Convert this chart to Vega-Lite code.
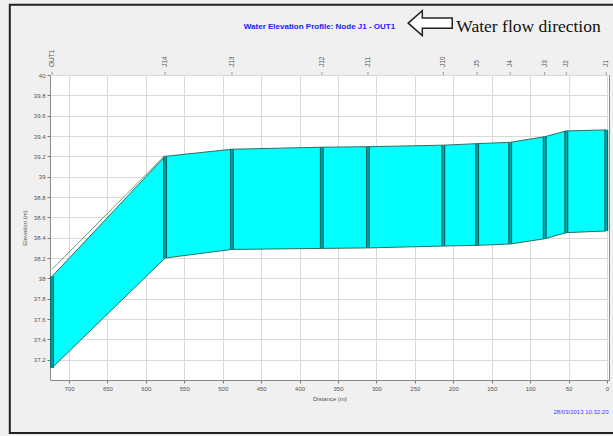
{
  "$schema": "https://vega.github.io/schema/vega-lite/v6.json",
  "autosize": "none",
  "width": 559,
  "height": 305,
  "padding": {"left": 50, "top": 75, "right": 4, "bottom": 56},
  "background": "#f0f0f0",
  "view": {"fill": "white", "stroke": "#8a8a8a", "strokeWidth": 1},
  "title": {
    "text": "Water Elevation Profile: Node J1 - OUT1",
    "color": "#2020ff",
    "fontSize": 8,
    "font": "Liberation Sans Narrow, Liberation Sans",
    "fontWeight": "bold",
    "anchor": "middle",
    "dx": -10,
    "offset": -27
  },
  "config": {
    "numberFormat": ".1~f",
    "axis": {
      "labelFont": "Liberation Sans",
      "labelFontSize": 6,
      "labelColor": "#555555",
      "labelOverlap": false,
      "titleFont": "Liberation Sans",
      "titleFontSize": 6,
      "titleFontWeight": "normal",
      "titleColor": "#555555",
      "gridColor": "#d9d9d9",
      "tickColor": "#777777",
      "tickSize": 3,
      "domain": false,
      "grid": true
    },
    "axisX": {"tickCount": 15},
    "axisY": {"tickCount": 15}
  },
  "datasets": {
    "profile": [
      {"node": "OUT1", "dist": 722, "top": 38.02, "bottom": 37.12},
      {"node": "J14", "dist": 575, "top": 39.2, "bottom": 38.2},
      {"node": "J13", "dist": 488, "top": 39.27, "bottom": 38.285},
      {"node": "J12", "dist": 371, "top": 39.29, "bottom": 38.295},
      {"node": "J11", "dist": 311, "top": 39.295, "bottom": 38.3},
      {"node": "J10", "dist": 213, "top": 39.31, "bottom": 38.318},
      {"node": "J5", "dist": 169, "top": 39.325, "bottom": 38.325},
      {"node": "J4", "dist": 126, "top": 39.338, "bottom": 38.338},
      {"node": "J3", "dist": 81, "top": 39.393, "bottom": 38.39},
      {"node": "J2", "dist": 53, "top": 39.45, "bottom": 38.45},
      {"node": "J1", "dist": 1, "top": 39.46, "bottom": 38.466}
    ],
    "hgl": [
      {"dist": 722, "elev": 38.09},
      {"dist": 575, "elev": 39.21}
    ],
    "notes": [
      {"label": "Water flow direction", "dist": 196, "elev": 40.47}
    ],
    "stamp": [
      {"label": "28/03/2013 10:32:20", "dist": -2, "elev": 36.69}
    ],
    "arrow": [
      {"dist": 230, "elev": 40.51}
    ]
  },
  "layer": [
    {
      "data": {"name": "profile"},
      "mark": {"type": "area", "color": "#00ffff", "stroke": "#2f6f5f", "strokeWidth": 1, "clip": true},
      "encoding": {
        "x": {
          "field": "dist", "type": "quantitative",
          "scale": {"domain": [-2.6, 724.7], "reverse": true, "nice": false, "zero": false},
          "axis": {
            "title": "Distance (m)",
            "labelPadding": 2,
            "titlePadding": 4
          }
        },
        "y": {
          "field": "top", "type": "quantitative",
          "scale": {"domain": [37.001, 40], "nice": false, "zero": false},
          "axis": {
            "title": "Elevation (m)",
            "labelPadding": 2,
            "titlePadding": 6
          }
        },
        "y2": {"field": "bottom"}
      }
    },
    {
      "data": {"name": "profile"},
      "mark": {"type": "rule", "color": "#006b6b", "strokeWidth": 4},
      "encoding": {
        "x": {"field": "dist", "type": "quantitative"},
        "y": {"field": "bottom", "type": "quantitative"},
        "y2": {"field": "top"}
      }
    },
    {
      "data": {"name": "profile"},
      "mark": {"type": "rule", "color": "#00a8a8", "strokeWidth": 1.5},
      "encoding": {
        "x": {"field": "dist", "type": "quantitative"},
        "y": {"field": "bottom", "type": "quantitative"},
        "y2": {"field": "top"}
      }
    },
    {
      "data": {"name": "hgl"},
      "mark": {"type": "line", "color": "#6f9a6f", "strokeWidth": 1},
      "encoding": {
        "x": {"field": "dist", "type": "quantitative"},
        "y": {"field": "elev", "type": "quantitative"}
      }
    },
    {
      "data": {"name": "profile"},
      "mark": {"type": "text", "angle": 270, "align": "left", "baseline": "middle", "yOffset": -8, "fontSize": 6.5, "font": "Liberation Sans", "color": "#555555", "clip": false},
      "encoding": {
        "x": {"field": "dist", "type": "quantitative"},
        "y": {"datum": 40, "type": "quantitative"},
        "text": {"field": "node"}
      }
    },
    {
      "data": {"name": "profile"},
      "mark": {"type": "tick", "orient": "vertical", "size": 3, "thickness": 1, "color": "#777777", "yOffset": -1.5, "clip": false},
      "encoding": {
        "x": {"field": "dist", "type": "quantitative"},
        "y": {"datum": 40, "type": "quantitative"}
      }
    },
    {
      "data": {"name": "arrow"},
      "mark": {
        "type": "point",
        "shape": "M -1 0 L -0.36 -0.57 L -0.36 -0.23 L 1 -0.23 L 1 0.23 L -0.36 0.23 L -0.36 0.57 Z",
        "size": 1936,
        "filled": true,
        "fill": "white",
        "stroke": "#222222",
        "strokeWidth": 1.5,
        "opacity": 1,
        "clip": false
      },
      "encoding": {
        "x": {"field": "dist", "type": "quantitative"},
        "y": {"field": "elev", "type": "quantitative"}
      }
    },
    {
      "data": {"name": "notes"},
      "mark": {"type": "text", "align": "left", "baseline": "middle", "font": "Liberation Serif", "fontSize": 17.5, "color": "#111111", "clip": false},
      "encoding": {
        "x": {"field": "dist", "type": "quantitative"},
        "y": {"field": "elev", "type": "quantitative"},
        "text": {"field": "label"}
      }
    },
    {
      "data": {"name": "stamp"},
      "mark": {"type": "text", "align": "right", "baseline": "middle", "font": "Liberation Sans Narrow, Liberation Sans", "fontSize": 6, "color": "#4040ff", "clip": false},
      "encoding": {
        "x": {"field": "dist", "type": "quantitative"},
        "y": {"field": "elev", "type": "quantitative"},
        "text": {"field": "label"}
      }
    },
    {
      "data": {"values": [{"x1": 777, "x2": -12, "y1": 40.69, "y2": 36.48}]},
      "mark": {"type": "rect", "fill": null, "fillOpacity": 0, "stroke": "#222222", "strokeWidth": 2, "clip": false},
      "encoding": {
        "x": {"field": "x1", "type": "quantitative"},
        "x2": {"field": "x2"},
        "y": {"field": "y1", "type": "quantitative"},
        "y2": {"field": "y2"}
      }
    }
  ]
}
